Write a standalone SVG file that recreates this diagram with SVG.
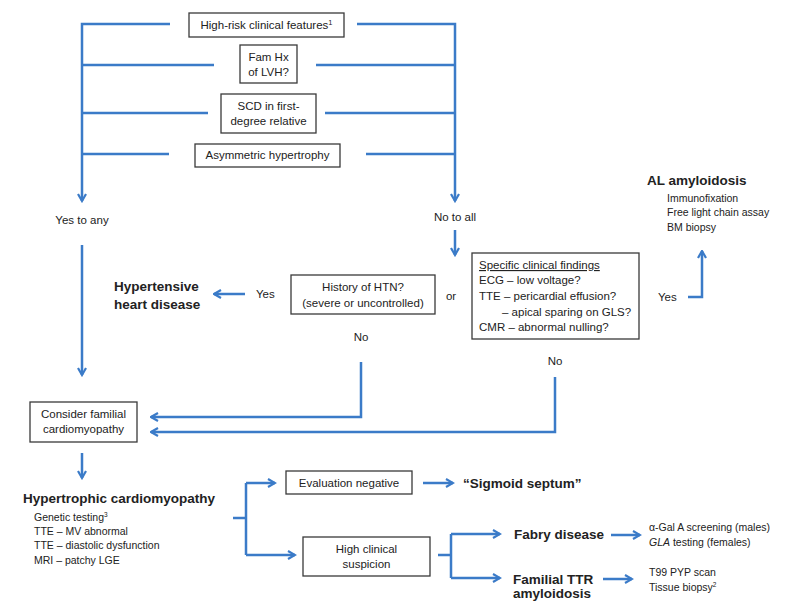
<svg xmlns="http://www.w3.org/2000/svg" width="785" height="603" viewBox="0 0 785 603">
<defs>
<style>
.c{fill:none;stroke:#3B7BC8;stroke-width:2.5}
.b{fill:#fff;stroke:#3a3a3a;stroke-width:1.3}
text{font-family:"Liberation Sans",Arial,sans-serif;fill:#222}
.t{font-size:11.5px}
.s{font-size:10.5px}
.h{font-size:13.5px;font-weight:bold}
.m{text-anchor:middle}
</style>
<marker id="a" viewBox="0 0 10 10" refX="8.5" refY="5" markerWidth="10" markerHeight="10" markerUnits="userSpaceOnUse" orient="auto">
<path d="M1.5,1 L8.5,5 L1.5,9" fill="none" stroke="#3B7BC8" stroke-width="2.2"/>
</marker>
</defs>
<rect width="785" height="603" fill="#fff"/>
<g id="connectors">
<path class="c" d="M170,24 H82 V201" marker-end="url(#a)"/>
<path class="c" d="M214,65 H82 M208,113 H82 M169,154 H82"/>
<path class="c" d="M357,24 H455 V201" marker-end="url(#a)"/>
<path class="c" d="M316,65 H455 M325,113 H455 M366,154 H455"/>
<path class="c" d="M82,245 V375" marker-end="url(#a)"/>
<path class="c" d="M455,230 V255" marker-end="url(#a)"/>
<path class="c" d="M245,294 H214" marker-end="url(#a)"/>
<path class="c" d="M361,362 V417 H151" marker-end="url(#a)"/>
<path class="c" d="M555,377 V432 H151" marker-end="url(#a)"/>
<path class="c" d="M688,297 H702 V251" marker-end="url(#a)"/>
<path class="c" d="M82,453 V478" marker-end="url(#a)"/>
<path class="c" d="M233,518 H246"/>
<path class="c" d="M246,483 V555"/>
<path class="c" d="M246,483 H275" marker-end="url(#a)"/>
<path class="c" d="M246,555 H295" marker-end="url(#a)"/>
<path class="c" d="M423,483 H453" marker-end="url(#a)"/>
<path class="c" d="M438,555 H451 M451,534 V578"/>
<path class="c" d="M451,534 H500" marker-end="url(#a)"/>
<path class="c" d="M451,578 H500" marker-end="url(#a)"/>
<path class="c" d="M611,535 H640" marker-end="url(#a)"/>
<path class="c" d="M603,579 H632" marker-end="url(#a)"/>
</g>
<g id="n-highrisk"><rect class="b" x="189" y="13" width="155" height="24"/><text class="t m" x="266.5" y="29" font-size="12">High-risk clinical features<tspan font-size="7.5" dy="-4">1</tspan></text></g>
<g id="n-famhx"><rect class="b" x="240" y="45" width="57" height="38"/><text class="t m" x="268.5" y="61">Fam Hx</text><text class="t m" x="268.5" y="76">of LVH?</text></g>
<g id="n-scd"><rect class="b" x="221" y="94" width="95" height="39"/><text class="t m" x="268.5" y="110">SCD in first-</text><text class="t m" x="268.5" y="125">degree relative</text></g>
<g id="n-asym"><rect class="b" x="195" y="144" width="145" height="23"/><text class="t m" x="267.5" y="159" font-size="12">Asymmetric hypertrophy</text></g>
<g id="n-yesany"><text class="t m" x="82" y="224">Yes to any</text></g>
<g id="n-noall"><text class="t m" x="455" y="221">No to all</text></g>
<g id="n-htd"><text class="h" x="114" y="291">Hypertensive</text><text class="h" x="114" y="309">heart disease</text></g>
<g id="l-yes1"><text class="t" x="256" y="298">Yes</text></g>
<g id="n-htn"><rect class="b" x="291" y="275" width="144" height="39"/><text class="t m" x="363" y="291">History of HTN?</text><text class="t m" x="363" y="307">(severe or uncontrolled)</text></g>
<g id="l-or"><text class="t m" x="451" y="300">or</text></g>
<g id="l-no1"><text class="t m" x="361" y="341">No</text></g>
<g id="n-specific"><rect class="b" x="472" y="253" width="167" height="86"/>
<text class="t" x="479" y="269" text-decoration="underline">Specific clinical findings</text>
<text class="t" x="479" y="284">ECG – low voltage?</text>
<text class="t" x="479" y="300">TTE – pericardial effusion?</text>
<text class="t" x="502" y="316">– apical sparing on GLS?</text>
<text class="t" x="479" y="331">CMR – abnormal  nulling?</text></g>
<g id="l-yes2"><text class="t" x="658" y="301">Yes</text></g>
<g id="l-no2"><text class="t m" x="555" y="365">No</text></g>
<g id="n-al"><text class="h" x="647" y="185" font-size="13">AL amyloidosis</text>
<text class="s" x="667" y="202">Immunofixation</text>
<text class="s" x="667" y="216">Free light chain assay</text>
<text class="s" x="667" y="231">BM biopsy</text></g>
<g id="n-consider"><rect class="b" x="30" y="402" width="107" height="40"/><text class="t m" x="83.5" y="418">Consider familial</text><text class="t m" x="83.5" y="433">cardiomyopathy</text></g>
<g id="n-hcm"><text class="h" x="23" y="503">Hypertrophic cardiomyopathy</text>
<text class="s" x="34" y="521">Genetic testing<tspan font-size="6.5" dy="-4">3</tspan></text>
<text class="s" x="34" y="535">TTE – MV abnormal</text>
<text class="s" x="34" y="549">TTE – diastolic dysfunction</text>
<text class="s" x="34" y="564">MRI – patchy LGE</text></g>
<g id="n-evalneg"><rect class="b" x="286" y="471" width="126" height="23"/><text class="t m" x="349" y="487">Evaluation negative</text></g>
<g id="n-sigmoid"><text class="h" x="463" y="488">“Sigmoid septum”</text></g>
<g id="n-highsusp"><rect class="b" x="303" y="537" width="127" height="39"/><text class="t m" x="366.5" y="553">High clinical</text><text class="t m" x="366.5" y="568">suspicion</text></g>
<g id="n-fabry"><text class="h" x="514" y="539" font-size="13">Fabry disease</text>
<text class="s" x="649" y="531">α-Gal A screening (males)</text>
<text class="s" x="649" y="546"><tspan font-style="italic">GLA</tspan> testing (females)</text></g>
<g id="n-ttr"><text class="h" x="513" y="584" font-size="13">Familial TTR</text><text class="h" x="513" y="598" font-size="12.5">amyloidosis</text>
<text class="s" x="649" y="576">T99 PYP scan</text>
<text class="s" x="649" y="591">Tissue biopsy<tspan font-size="6.5" dy="-4">2</tspan></text></g>
</svg>
